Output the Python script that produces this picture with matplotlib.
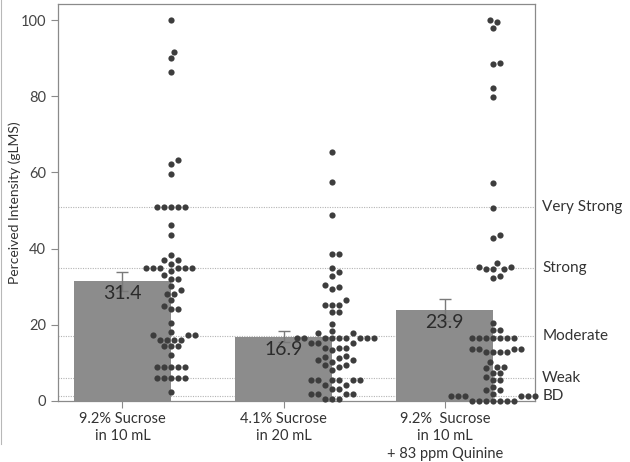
import numpy as np
import matplotlib.pyplot as plt
from matplotlib.lines import Line2D

plt.rcParams['font.family'] = ['Lato', 'DejaVu Sans']

# conditions and bar summary (mean +/- sem, gLMS)
labels = ['9.2% Sucrose\nin 10 mL', '4.1% Sucrose\nin 20 mL',
          '9.2%  Sucrose\nin 10 mL\n+ 83 ppm Quinine']
means = [31.4, 16.9, 23.9]
sems = [2.4, 1.5, 3.0]

# individual ratings
g1 = [100, 91.6, 89.9, 86.3, 63.3, 62.2, 59.5, 51, 51, 51, 51, 51,
      46.2, 43.5, 38.4, 36.9, 36.9, 36.0, 34.8, 34.8, 34.8, 34.8, 34.8, 34.8,
      34.1, 33.2, 31.9, 31.9, 30.1, 29.2, 28.2, 28.2, 26.6, 24.9, 24.2, 24.2,
      20.5, 18.1, 17.3, 17.3, 17.3, 16.1, 16.1, 16.1, 16.1, 14.4, 14.4, 14.4,
      12.2, 9, 9, 9, 9, 9, 6, 6, 6, 6, 6, 2.4]
g2 = [65.4, 57.6, 48.9, 38.6, 38.6, 34.8, 33.8, 32.8, 30.5, 29.9, 29.3,
      26.4, 25.2, 25.2, 25.2, 23.3, 23.3, 20.3, 18.4, 17.8, 17.8,
      16.5, 16.5, 16.5, 16.5, 16.5, 16.5, 16.5, 16.5, 16.5,
      15.1, 15.1, 15.1, 14.0, 14.0, 14.0, 13.4,
      11.8, 11.6, 11.3, 10.7, 10.7, 10.3, 9.5, 9.5, 9.0, 8.1,
      5.5, 5.5, 5.5, 5.5, 5.5, 5.5, 4.2, 4.2, 3.1, 3.1,
      1.8, 1.8, 1.8, 1.8, 0.5, 0.5, 0.5]
g3 = [100, 99.5, 97.8, 88.8, 88.5, 82.1, 79.9, 57.1, 50.7, 43.5, 42.9,
      36.2, 35.3, 35.3, 34.6, 34.6, 34.6, 32.9, 32.2,
      20.5, 18.6, 18.6, 16.5, 16.5, 16.5, 16.5, 16.5, 16.5, 16.5,
      13.6, 13.6, 13.6, 13.6, 12.9, 12.9, 12.9, 12.9,
      10.3, 9, 9, 8.6, 7.3, 7.3, 6.4, 5.5, 5.5, 3.7, 2.9, 2.9, 1.8,
      0, 0, 0, 0, 0, 0, 0, 1.4, 1.4, 1.4, 1.4, 1.4, 1.4]
ratings = [g1, g2, g3]

# gLMS anchors
anchor_vals = [1.4, 6, 17, 35, 51]
anchor_names = ['BD', 'Weak', 'Moderate', 'Strong', 'Very Strong']

W, H = 630, 462
fig = plt.figure(figsize=(W / 100, H / 100), dpi=100)
ax = fig.add_axes([58 / W, 61 / H, 477 / W, 397 / H])
xmin, xmax = -0.40, 2.56
ymin, ymax = 0, 104.2
ax.set_xlim(xmin, xmax)
ax.set_ylim(ymin, ymax)

# px per data unit, used to lay the dots out like a beeswarm
xpx = 477 / (xmax - xmin)
ypx = 397 / (ymax - ymin)


def swarm(vals, step=3.5, mind=6.6):
    vals = np.asarray(vals, dtype=float)
    offs = np.zeros(len(vals))
    placed = []
    for i in np.argsort(vals, kind='stable'):
        y = vals[i] * ypx
        for k in range(400):
            o = step * ((k + 1) // 2) * (1 if k % 2 else -1)
            if all((o - px) ** 2 + (y - py) ** 2 >= mind ** 2 for px, py in placed):
                break
        placed.append((o, y))
        offs[i] = o
    return offs / xpx


grey_line = '#8a8a8a'
for v in anchor_vals:
    ax.axhline(v, color='#b4b4b4', lw=0.8, ls=(0, (1, 1.2)), zorder=1)

xs = np.arange(len(means))
ax.bar(xs, means, width=0.6, color='#8c8c8c', zorder=2)
ax.errorbar(xs, means, yerr=sems, fmt='none', ecolor='#7a7a7a', elinewidth=1,
            capsize=4, capthick=1, zorder=3)
for x, m in zip(xs, means):
    ax.text(x, m - 3.3, f'{m:.1f}', ha='center', va='center', fontsize=14,
            color='#2b2b2b', zorder=4)

for x, vals in zip(xs, ratings):
    ax.scatter(x + 0.3 + swarm(vals), vals, s=20, color='#3d3d3d',
               linewidths=0, zorder=5, clip_on=False)

for v, name in zip(anchor_vals, anchor_names):
    ax.text(1.015, v, name, transform=ax.get_yaxis_transform(), ha='left',
            va='center', fontsize=11, color='#333333')

ax.set_yticks(range(0, 101, 20))
ax.set_xticks(xs)
ax.set_xticklabels(labels, fontsize=10.5, color='#333333', linespacing=1.3)
ax.tick_params(axis='y', labelsize=10.5, labelcolor='#444444', color=grey_line,
               length=5, width=0.8)
ax.tick_params(axis='x', color=grey_line, length=5, width=0.8, pad=3)
ax.set_ylabel('Perceived Intensity (gLMS)', fontsize=10, color='#333333')
ax.yaxis.set_label_coords(-0.078, 0.5)
for s in ax.spines.values():
    s.set_color(grey_line)
    s.set_linewidth(0.9)

fig.add_artist(Line2D([0.002, 0.002], [0.04, 1.0], transform=fig.transFigure,
                      color='#b8b8b8', lw=0.8))

fig.savefig('out.png', dpi=100)
